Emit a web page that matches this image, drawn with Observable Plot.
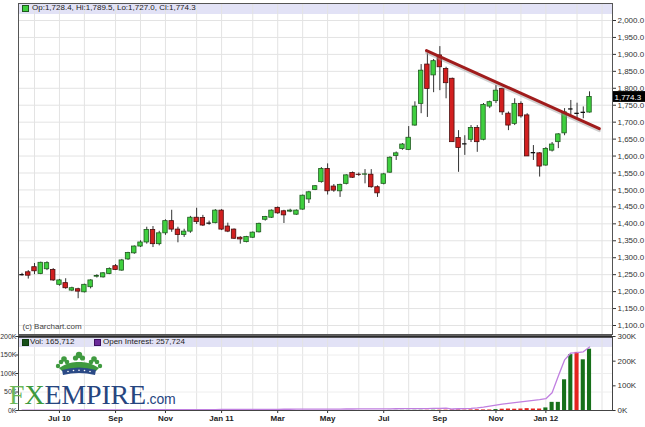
<!DOCTYPE html>
<html><head><meta charset="utf-8">
<script src="https://cdn.jsdelivr.net/npm/d3@7"></script>
<script src="https://cdn.jsdelivr.net/npm/@observablehq/plot@0.6"></script>
<style>
body{margin:0;background:#fff;font-family:"Liberation Sans",Arial,sans-serif;}
#wrap{position:relative;width:645px;height:427px;overflow:hidden;background:#fff;}
.abs{position:absolute;}
.lg{font-size:8px;color:#222;white-space:nowrap;line-height:10px;}
</style></head><body><div id="wrap">
<div class="abs" style="left:19px;top:4px;width:593px;height:10px;background:#e2e2f6;"></div>
<div class="abs" style="left:19px;top:337px;width:593px;height:10px;background:#e2e2f6;"></div>
</div>
<script>
// ---- data ----
const dates = ["2010-05-24","2010-05-31","2010-06-07","2010-06-14","2010-06-21","2010-06-28","2010-07-05","2010-07-12","2010-07-19","2010-07-26",
"2010-08-02","2010-08-09","2010-08-16","2010-08-23","2010-08-30","2010-09-06","2010-09-13","2010-09-20","2010-09-27","2010-10-04",
"2010-10-11","2010-10-18","2010-10-25","2010-11-01","2010-11-08","2010-11-15","2010-11-22","2010-11-29","2010-12-06","2010-12-13",
"2010-12-20","2010-12-27","2011-01-03","2011-01-10","2011-01-17","2011-01-24","2011-01-31","2011-02-07","2011-02-14","2011-02-21",
"2011-02-28","2011-03-07","2011-03-14","2011-03-21","2011-03-28","2011-04-04","2011-04-11","2011-04-18","2011-04-25","2011-05-02",
"2011-05-09","2011-05-16","2011-05-23","2011-05-30","2011-06-06","2011-06-13","2011-06-20","2011-06-27","2011-07-04","2011-07-11",
"2011-07-18","2011-07-25","2011-08-01","2011-08-08","2011-08-15","2011-08-22","2011-08-29","2011-09-05","2011-09-12","2011-09-19",
"2011-09-26","2011-10-03","2011-10-10","2011-10-17","2011-10-24","2011-10-31","2011-11-07","2011-11-14","2011-11-21","2011-11-28",
"2011-12-05","2011-12-12","2011-12-19","2011-12-26","2012-01-02","2012-01-09","2012-01-16","2012-01-23","2012-01-30","2012-02-06",
"2012-02-13","2012-02-20"];
const open  = [1250,1257,1272,1252,1266,1264,1220,1225,1203,1207, 1198,1213,1244,1242,1252,1275,1262,1295,1313,1333,
 1345,1382,1340,1372,1408,1383,1367,1377,1418,1417, 1402,1402,1439,1392,1383,1359,1346,1359,1375,1412,
 1418,1447,1437,1436,1427,1442,1472,1500,1523,1562, 1510,1496,1518,1550,1545,1545,1545,1508,1518,1551,
 1600,1621,1618,1690,1754,1870,1838,1897,1857,1828, 1653,1636,1648,1683,1648,1746,1762,1798,1725,1695,
 1754,1720,1610,1608,1572,1616,1641,1667,1739,1726, 1729,1728.4];
const high  = [1254,1262,1283,1287,1288,1268,1236,1238,1213,1210, 1222,1235,1250,1256,1270,1280,1295,1316,1335,1350,
 1390,1392,1378,1412,1440,1390,1384,1422,1446,1425, 1408,1442,1442,1402,1385,1362,1363,1376,1402,1422,
 1441,1450,1440,1443,1441,1485,1496,1513,1566,1577, 1516,1517,1545,1553,1550,1560,1560,1512,1549,1598,
 1612,1637,1687,1760,1870,1902,1885,1923,1862,1830, 1675,1660,1690,1690,1755,1762,1808,1800,1730,1769,
 1760,1725,1631,1610,1625,1640,1666,1740,1764,1756, 1745,1789.5];
const low   = [1246,1237,1250,1250,1262,1230,1216,1207,1200,1179, 1196,1208,1240,1240,1250,1262,1260,1292,1310,1330,
 1340,1330,1335,1366,1375,1344,1360,1372,1398,1392, 1396,1400,1380,1374,1354,1340,1344,1357,1373,1408,
 1416,1428,1401,1433,1425,1440,1460,1498,1520,1485, 1493,1478,1515,1534,1540,1518,1505,1478,1515,1549,
 1587,1617,1616,1688,1725,1714,1787,1793,1769,1641, 1552,1602,1640,1611,1645,1740,1755,1720,1675,1690,
 1712,1599,1587,1538,1570,1612,1622,1660,1715,1710, 1710,1727.0];
const close = [1250,1247,1260,1285,1284,1233,1233,1210,1210,1200, 1220,1233,1246,1254,1267,1264,1292,1314,1333,1345,
 1382,1340,1372,1408,1383,1367,1377,1418,1405,1395, 1402,1439,1383,1377,1356,1354,1361,1374,1400,1420,
 1439,1431,1425,1439,1439,1483,1493,1511,1562,1496, 1498,1515,1543,1536,1544,1546,1508,1490,1546,1595,
 1608,1634,1654,1746,1852,1798,1880,1862,1815,1641, 1624,1636,1683,1641,1751,1759,1793,1729,1690,1754,
 1717,1599,1610,1569,1621,1634,1664,1729,1739,1726, 1729,1774.3];
// volume in thousands, colour of each volume bar (G up / R down), open interest in thousands
const volume = [0,0,0,0,0,0,0,0,0,0, 0,0,0,0,0,0,0,0,0,0, 0,0,0,0,0,0,0,0,0,0, 0,0,0,0,0,0,0,0,0,0,
 0,0,0,0,0,0,0,0,0,0, 0,0,0,0,0,0,0,0,0,0.3, 0.3,0.4,0.4,0.5,0.6,0.6,0.7,0.8,0.9,1.5,
 1.5,1.0,1.5,2.0,1.5,1.5,2.5,3.5,4.0,3.5, 4.0,5.0,4.0,4.0,7.0,22,22,83,151,157, 137,165.712];
const volColor = ["G","R","R","G","G","R","G","R","G","R", "G","G","G","G","G","R","G","G","G","G",
 "G","R","G","G","R","R","G","G","R","R", "G","G","R","R","R","R","G","G","G","G",
 "G","R","R","G","G","G","G","G","G","R", "R","G","G","R","R","G","R","R","G","G",
 "G","G","G","G","G","R","G","R","R","R", "R","R","R","R","R","R","G","R","R","R",
 "R","R","R","R","G","G","G","G","G","R", "G","G"];
const openInterest = [1.0,1.2,1.3,1.4,1.5,1.6,1.7,1.8,1.9,2.0, 2.1,2.2,2.2,2.3,2.4,2.5,2.5,2.6,2.7,2.8,
 2.9,3.0,3.0,3.1,3.2,3.3,3.4,3.5,3.6,3.7, 3.8,3.9,4.0,4.1,4.2,4.3,4.4,4.5,4.6,4.7,
 4.8,4.9,5.0,5.1,5.2,5.3,5.4,5.5,5.6,5.7, 5.8,5.9,6.0,6.1,6.2,6.3,6.4,6.5,6.6,6.8,
 7.0,7.2,7.4,7.6,7.8,8.0,8.5,9,9.5,6, 7,8,9,11,14,18,22,26,29,32,
 35,38,41,44,48,72,140,205,233,235, 238,257.724];
const priceTicks = [1100,1150,1200,1250,1300,1350,1400,1450,1500,1550,1600,1650,1700,1750,1800,1850,1900,1950,2000];
const volTicks = [0,50,100,150,200];
const oiTicks = [0,100,200,300];
const monthTickDates = ["2010-07-05","2010-09-06","2010-11-01","2011-01-03","2011-03-07","2011-05-02","2011-07-04","2011-09-05","2011-11-07","2012-01-02"];
const monthLabels = ["Jul 10","Sep","Nov","Jan 11","Mar","May","Jul","Sep","Nov","Jan 12"];
const gridMonthDates = ["2010-06-07","2010-07-05","2010-08-02","2010-09-06","2010-10-04","2010-11-01","2010-12-06","2011-01-03","2011-02-07","2011-03-07","2011-04-04","2011-05-02","2011-06-06","2011-07-04","2011-08-01","2011-09-05","2011-10-03","2011-11-07","2011-12-05","2012-01-02","2012-02-06","2012-03-05"];
const trendDates = ["2011-08-21","2012-03-02"];
const trendPrices = [1911,1681];
const lastQuote = {op: 1728.4, hi: 1789.5, lo: 1727.0, cl: 1774.3, vol: 165712, oi: 257724};

// ---- build ----
const parse = d3.utcParse("%Y-%m-%d");
const bars = dates.map((d, i) => ({date: parse(d), o: open[i], h: high[i], l: low[i], c: close[i], v: volume[i], vc: volColor[i], oi: openInterest[i]}));
const DAY = 864e5, half = 2.5 * DAY, vhalf = 2.3 * DAY;
const xDomain = [new Date(Date.UTC(2010,4,20,1)), new Date(Date.UTC(2012,2,16,19))];
const xOut = new Date(+xDomain[1] + 4 * DAY);
const xTagEnd = new Date(+xDomain[1] + 36 * DAY);
const GREEN = "#3fcf3f", RED = "#d21f1f";
const candles = bars.filter(d => d.o !== d.c);
const dojis = bars.filter(d => d.o === d.c);
const trend = trendDates.map((d, i) => ({date: parse(d), p: trendPrices[i]}));
const gridMonths = gridMonthDates.map(parse);
const fmt = d3.format(",.1f");

const price = Plot.plot({
  width: 645, height: 336, marginLeft: 18, marginRight: 33, marginTop: 3, marginBottom: 2,
  style: {background: "transparent", fontFamily: "Liberation Sans, Arial, sans-serif", fontSize: "8px", color: "#333", overflow: "visible"},
  x: {type: "utc", domain: xDomain, range: [18, 612], axis: null},
  y: {domain: [1100, 2000], range: [325, 20], axis: "right", ticks: priceTicks, tickFormat: d => fmt(d), tickSize: 3, tickPadding: 2, label: null},
  marks: [
    Plot.ruleX(gridMonths, {stroke: "#e3e3e3", strokeWidth: 1}),
    Plot.ruleY(priceTicks, {stroke: "#e3e3e3", strokeWidth: 1}),
    Plot.text(["(c) Barchart.com"], {frameAnchor: "bottom-left", dx: 4, dy: -6, textAnchor: "start", fill: "#444", fontSize: 8}),
    Plot.ruleX(bars, {x: "date", y1: "l", y2: "h", stroke: "#333", strokeWidth: 1}),
    Plot.rect(candles, {x1: d => new Date(+d.date - half), x2: d => new Date(+d.date + half), y1: "o", y2: "c",
      fill: d => d.c > d.o ? GREEN : RED, stroke: d => d.c > d.o ? "#1f5a1f" : "#4a0d0d", strokeWidth: 0.8}),
    Plot.ruleY(dojis, {y: "c", x1: d => new Date(+d.date - half), x2: d => new Date(+d.date + half), stroke: "#111", strokeWidth: 1.3}),
    Plot.line(trend, {x: "date", y: "p", stroke: "#999", strokeOpacity: 0.45, strokeWidth: 3, dy: 2}),
    Plot.line(trend, {x: "date", y: "p", stroke: "#a01c1c", strokeWidth: 3}),
    Plot.frame({stroke: "#555"}),
    // last price tag
    Plot.rect([lastQuote], {x1: xDomain[1], x2: xTagEnd, y1: d => d.cl - 16, y2: d => d.cl + 16, fill: "#000", dx: 1}),
    Plot.text([lastQuote], {x: xDomain[1], y: "cl", text: d => fmt(d.cl), dx: 2, textAnchor: "start", fill: "#fff", fontSize: 8})
  ]
});
price.style.position = "absolute"; price.style.left = "0px"; price.style.top = "0px";

const labelByDate = new Map(monthTickDates.map((d, i) => [+parse(d), monthLabels[i]]));
const vol = Plot.plot({
  width: 645, height: 94, marginLeft: 18, marginRight: 33, marginTop: 3, marginBottom: 17,
  style: {background: "transparent", fontFamily: "Liberation Sans, Arial, sans-serif", fontSize: "8px", color: "#333", overflow: "visible"},
  x: {type: "utc", domain: xDomain, range: [18, 612], ticks: monthTickDates.map(parse), tickFormat: d => labelByDate.get(+d), tickSize: 3, tickPadding: 2, label: null},
  y: {domain: [0, 200], axis: null},
  marks: [
    Plot.ruleX(gridMonths, {stroke: "#e3e3e3", strokeWidth: 1}),
    Plot.ruleY(volTicks, {stroke: "#eeeeee", strokeWidth: 1}),
    Plot.rect(bars, {x1: d => new Date(+d.date - vhalf), x2: d => new Date(+d.date + vhalf), y1: 0, y2: "v",
      fill: d => d.vc === "G" ? "#17701a" : "#e3231e"}),
    Plot.line(bars, {x: "date", y: d => d.oi * 200 / 300, stroke: "#c07fe0", strokeWidth: 1.3}),
    // left volume axis
    Plot.ruleY(volTicks, {x1: new Date(+xDomain[0] - 3 * DAY), x2: xDomain[0], y: d => d, stroke: "#333"}),
    Plot.text(volTicks, {x: xDomain[0], y: d => d, text: d => d + "K", dx: -2, textAnchor: "end", fill: "#333", fontSize: 7}),
    // right open-interest axis
    Plot.ruleY(oiTicks, {x1: xDomain[1], x2: xOut, y: d => d * 200 / 300, stroke: "#333"}),
    Plot.text(oiTicks, {x: xDomain[1], y: d => d * 200 / 300, text: d => d + "K", dx: 5, textAnchor: "start", fill: "#333", fontSize: 8}),
    Plot.frame({stroke: "#444"}),
    Plot.ruleY([200], {stroke: "#2a2a2a", strokeWidth: 2.5})
  ]
});
vol.style.position = "absolute"; vol.style.left = "0px"; vol.style.top = "333px";
d3.select(vol).selectAll('g[aria-label^="x-axis"] text').attr("font-weight", "bold").attr("fill", "#222");

const wrap = document.getElementById("wrap");
wrap.appendChild(price);
wrap.appendChild(vol);

// legends (text)
wrap.insertAdjacentHTML("beforeend",
 `<div class="abs" style="left:22px;top:5px;width:5px;height:5px;background:${GREEN};border:1px solid #1f5a1f;"></div>
  <div class="abs lg" style="left:32px;top:3px;">Op:${fmt(lastQuote.op)}, Hi:${fmt(lastQuote.hi)}, Lo:${fmt(lastQuote.lo)}, Cl:${fmt(lastQuote.cl)}</div>
  <div class="abs" style="left:22px;top:339px;width:5px;height:5px;background:#17501a;border:1px solid #0d3a0d;"></div>
  <div class="abs lg" style="left:30px;top:337px;">Vol: ${d3.format(",")(lastQuote.vol)}</div>
  <div class="abs" style="left:94px;top:339px;width:5px;height:5px;background:#6a2a9a;border:1px solid #3d1060;"></div>
  <div class="abs lg" style="left:103px;top:337px;">Open Interest: ${d3.format(",")(lastQuote.oi)}</div>
  <svg class="abs" style="left:55px;top:350px;" width="48" height="28" viewBox="0 0 48 28">
    <g fill="#3f9a3f">
      <circle cx="24" cy="5" r="3.2"/><circle cx="20.5" cy="8" r="2.6"/><circle cx="27.5" cy="8" r="2.6"/>
      <circle cx="9" cy="9" r="2.8"/><circle cx="6" cy="12" r="2.3"/><circle cx="12" cy="12" r="2.3"/>
      <circle cx="39" cy="9" r="2.8"/><circle cx="36" cy="12" r="2.3"/><circle cx="42" cy="12" r="2.3"/>
      <circle cx="3" cy="16" r="2.2"/><circle cx="45" cy="16" r="2.2"/>
      <path d="M4 18 Q14 11 24 12 Q34 11 44 18 L41 21 Q24 16 7 21 Z"/>
    </g>
    <path d="M7 20 Q24 15 41 20 L40 25 Q24 21 8 25 Z" fill="#2b4a86"/>
    <g fill="#fff"><circle cx="13" cy="21.5" r="0.8"/><circle cx="18.5" cy="20.5" r="0.8"/><circle cx="24" cy="20.2" r="0.8"/><circle cx="29.5" cy="20.5" r="0.8"/><circle cx="35" cy="21.5" r="0.8"/></g>
  </svg>
  <div class="abs" style="left:9px;top:379px;font-family:'Liberation Serif','DejaVu Serif',serif;font-size:28px;line-height:32px;white-space:nowrap;letter-spacing:-0.2px;">
    <span style="color:#6bb85a">F</span><span style="color:#3d9a3d">X</span><span style="color:#26457f">EMPIRE</span><span style="font-family:'Liberation Sans',Arial,sans-serif;font-size:14px;color:#26457f;">.com</span>
  </div>`);
</script>
</body></html>
